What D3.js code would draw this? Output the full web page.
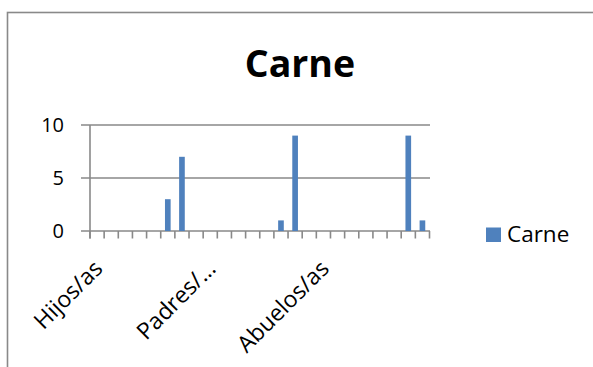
<!DOCTYPE html>
<html>
<head>
<meta charset="utf-8">
<script src="https://cdn.jsdelivr.net/npm/d3@7"></script>
<style>
  html, body { margin: 0; padding: 0; background: #fff; }
  svg { display: block; }
  text { font-family: "Open Sans", "Noto Sans", sans-serif; fill: #000; }
</style>
</head>
<body>
<svg id="chart" width="593" height="367"></svg>
<script>
// Category rows (only every 8th row carries a printed label)
const categories = [
  "Hijos/as", "", "", "", "", "", "", "",
  "Padres/…", "", "", "", "", "", "", "",
  "Abuelos/as", "", "", "", "", "", "", ""
];
// Series "Carne"
const seriesName = "Carne";
const carneValues = [0, 0, 0, 0, 0, 3, 7, 0, 0, 0, 0, 0, 0, 1, 9, 0, 0, 0, 0, 0, 0, 0, 9, 1];
// Value axis ticks
const yTicks = [0, 5, 10];
const labelStep = 8;

const svg = d3.select("#chart");
const lineColor = "#898989";
const barColor = "#4F81BD";

// Chart frame (extends past the right and bottom edges)
svg.append("rect")
  .attr("x", 7.5).attr("y", 12.5)
  .attr("width", 700).attr("height", 500)
  .attr("fill", "none")
  .attr("stroke", lineColor)
  .attr("stroke-width", 1.6);

// Title
svg.append("text")
  .attr("x", 300).attr("y", 76.5)
  .attr("text-anchor", "middle")
  .style("font-size", "37.5px")
  .style("font-weight", "bold")
  .text(seriesName);

const plot = { left: 90, right: 429.5, top: 125, bottom: 231 };

const x = d3.scaleBand()
  .domain(d3.range(categories.length))
  .range([plot.left, plot.right])
  .paddingInner(0).paddingOuter(0);

const y = d3.scaleLinear()
  .domain([0, 10])
  .range([plot.bottom, plot.top]);

// Horizontal gridlines with their left tick marks
svg.append("g")
  .selectAll("line")
  .data(yTicks)
  .join("line")
  .attr("x1", plot.left - 9).attr("x2", plot.right + 0.5)
  .attr("y1", d => y(d)).attr("y2", d => y(d))
  .attr("stroke", lineColor)
  .attr("stroke-width", 1.6);

// Value axis line
svg.append("line")
  .attr("x1", plot.left).attr("x2", plot.left)
  .attr("y1", y(10)).attr("y2", plot.bottom + 7.5)
  .attr("stroke", lineColor)
  .attr("stroke-width", 1.6);

// Category tick marks at band boundaries
const boundaries = d3.range(categories.length + 1).map(i =>
  i < categories.length ? x(i) : x(categories.length - 1) + x.bandwidth());
svg.append("g")
  .selectAll("line")
  .data(boundaries)
  .join("line")
  .attr("x1", d => d).attr("x2", d => d)
  .attr("y1", plot.bottom).attr("y2", plot.bottom + 7.5)
  .attr("stroke", lineColor)
  .attr("stroke-width", 1.6);

// Value axis labels
svg.append("g")
  .selectAll("text")
  .data(yTicks)
  .join("text")
  .attr("x", 64)
  .attr("y", d => y(d) + 7.2)
  .attr("text-anchor", "end")
  .style("font-size", "20px")
  .text(d => d);

// Bars
const barW = x.bandwidth() / 2.5;
svg.append("g")
  .selectAll("rect")
  .data(carneValues.map((v, i) => ({ v, i })).filter(d => d.v > 0))
  .join("rect")
  .attr("x", d => x(d.i) + (x.bandwidth() - barW) / 2)
  .attr("width", barW)
  .attr("y", d => y(d.v))
  .attr("height", d => y(0) - y(d.v))
  .attr("fill", barColor);

// Rotated category labels
svg.append("g")
  .selectAll("text")
  .data(categories.map((c, i) => ({ c, i })).filter(d => d.i % labelStep === 0))
  .join("text")
  .attr("transform", d => `translate(${x(d.i) + x.bandwidth() / 2 + 7},270) rotate(-45)`)
  .attr("text-anchor", "end")
  .style("font-size", "23px")
  .text(d => d.c);

// Legend
svg.append("rect")
  .attr("x", 486).attr("y", 227.5)
  .attr("width", 15).attr("height", 14.5)
  .attr("fill", barColor);
svg.append("text")
  .attr("x", 507).attr("y", 241.5)
  .style("font-size", "22.5px")
  .text(seriesName);
</script>
</body>
</html>
